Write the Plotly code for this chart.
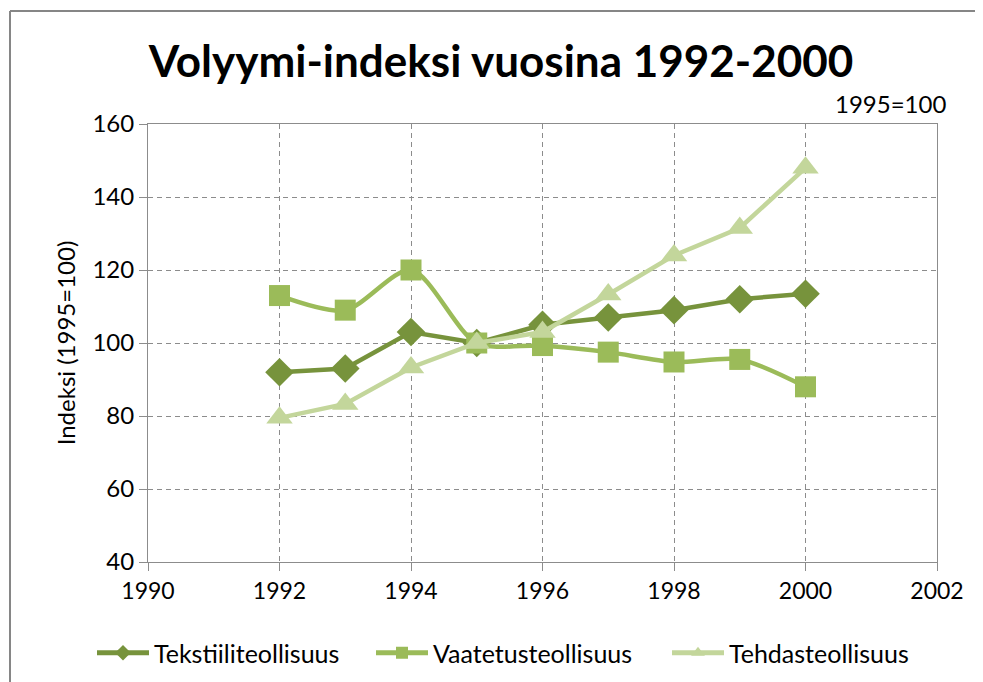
import plotly.graph_objects as go

years = [1992, 1993, 1994, 1995, 1996, 1997, 1998, 1999, 2000]
tekstiili = [92, 93, 103, 100, 105, 107, 109, 112, 113.5]
vaatetus = [113, 109, 120, 100, 99.3, 97.5, 94.8, 95.5, 88]
tehdas = [79.5, 83.3, 93.3, 100, 103, 113.3, 124, 131.5, 148]

names = ["Tekstiiliteollisuus", "Vaatetusteollisuus", "Tehdasteollisuus"]
colors = ["#77933C", "#9BBB59", "#C3D69B"]
symbols = ["diamond", "square", "triangle-up"]
shapes_line = ["linear", "spline", "linear"]
sizes = [22, 21, 23]
legend_ids = ["legend", "legend2", "legend3"]

fig = go.Figure()
for vals, name, col, sym, sh, sz, lg in zip([tekstiili, vaatetus, tehdas], names, colors, symbols,
                                            shapes_line, sizes, legend_ids):
    fig.add_trace(go.Scatter(
        x=years, y=vals, name=name, mode="lines+markers", legend=lg,
        line=dict(color=col, width=4.5, shape=sh, smoothing=0.8),
        marker=dict(symbol=sym, size=sz, color=col),
    ))

# page has an 8px body margin; positions below are page pixels
OFF = 8
W, H = 983 - OFF, 682 - OFF
L, R, T, B = 148 - OFF, 937 - OFF, 124 - OFF, 562 - OFF

def px(x):
    return (x - OFF - L) / (R - L)

def py(y):
    return (B - (y - OFF)) / (B - T)

FONT = "Lato"
AX = "#8c8c8c"
DASH = "5px,4px"

def leg(xpage):
    return dict(orientation="h", x=(xpage - OFF) / W, xanchor="left", xref="container",
                y=1 - (653 - OFF) / H, yanchor="middle", yref="container",
                font=dict(size=25, family=FONT), itemwidth=52, itemsizing="constant",
                bgcolor="rgba(0,0,0,0)")

fig.update_layout(
    width=W, height=H,
    margin=dict(l=L, r=W - R, t=T, b=H - B, autoexpand=False),
    paper_bgcolor="white", plot_bgcolor="white",
    font=dict(family=FONT, color="#000000", size=23),
    title=dict(text="<b>Volyymi-indeksi vuosina 1992-2000</b>",
               x=px(501), xanchor="center", xref="paper",
               y=1 - (62 - OFF) / H, yanchor="middle",
               font=dict(size=44, family=FONT, color="#000")),
    xaxis=dict(range=[1990, 2002], tickvals=[1990, 1992, 1994, 1996, 1998, 2000, 2002],
               showgrid=True, gridcolor=AX, griddash=DASH, gridwidth=1,
               showline=True, linecolor=AX, linewidth=1, mirror=True,
               ticks="outside", ticklen=8, tickcolor=AX,
               tickfont=dict(size=23), zeroline=False),
    yaxis=dict(range=[40, 160], tickvals=[40, 60, 80, 100, 120, 140, 160],
               showgrid=True, gridcolor=AX, griddash=DASH, gridwidth=1,
               showline=True, linecolor=AX, linewidth=1, mirror=True,
               ticks="outside", ticklen=8, tickcolor=AX,
               tickfont=dict(size=24), zeroline=False,
               title=dict(text="Indeksi (1995=100)", font=dict(size=24), standoff=10)),
    legend=leg(92),
    legend2=leg(371),
    legend3=leg(667),
    showlegend=True,
    annotations=[dict(text="1995=100", xref="paper", yref="paper",
                      x=px(948), y=py(104), xanchor="right", yanchor="middle",
                      showarrow=False, font=dict(size=24))],
    shapes=[
        dict(type="line", xref="paper", yref="paper", x0=px(10), x1=px(1000), y0=py(11), y1=py(11),
             line=dict(color="#868686", width=2)),
        dict(type="line", xref="paper", yref="paper", x0=px(10), x1=px(10), y0=py(11), y1=py(700),
             line=dict(color="#868686", width=2)),
    ],
)

fig.write_html("out.html")
